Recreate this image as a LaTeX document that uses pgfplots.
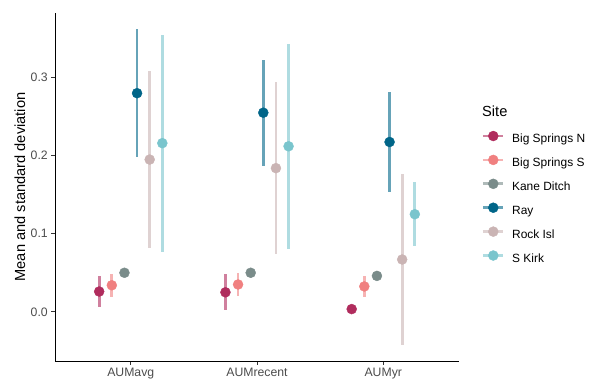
\documentclass[border=0pt]{standalone}
\usepackage{pgfplots}
\pgfplotsset{compat=1.18}
\usepackage{fontspec}
\setmainfont{Liberation Sans}
\definecolor{cBSN}{RGB}{176,44,93}
\definecolor{cBSS}{RGB}{240,128,128}
\definecolor{cKD}{RGB}{122,140,138}
\definecolor{cRay}{RGB}{0,101,136}
\definecolor{cRock}{RGB}{202,180,180}
\definecolor{cSK}{RGB}{122,197,205}
\newcommand{\legimg}[1]{\addlegendimage{legend image code/.code={\draw[#1!60!white, line width=2.7bp] (0bp,3.6bp) -- (20bp,3.6bp); \fill[#1] (10.5bp,3.6bp) circle (5bp);}}}
\begin{document}
\begin{tikzpicture}[x=1bp,y=1bp]
\useasboundingbox (0,0) rectangle (599,379);
\begin{axis}[
  at={(55bp,18bp)}, anchor=south west,
  scale only axis, width=404bp, height=348bp,
  xmin=0.4, xmax=3.6, ymin=-0.063, ymax=0.3827,
  axis x line*=bottom, axis y line*=left,
  axis line style={-, black, line width=0.8bp},
  xtick={1,2,3}, xticklabels={AUMavg,AUMrecent,AUMyr},
  ytick={0,0.1,0.2,0.3},
  /pgf/number format/.cd, fixed, fixed zerofill, precision=1, assume math mode=true,
  /pgfplots/.cd,
  tick align=outside, major tick length=3.7bp,
  tick style={black!80, line width=0.8bp},
  ticklabel style={font=\fontsize{12.3}{13}\selectfont, text=black!70},
  ylabel={Mean and standard deviation},
  ylabel style={font=\fontsize{14.7}{16}\selectfont, at={(axis description cs:-0.087,0.5)}, anchor=center, rotate=0},
  legend style={at={(axis description cs:1.055,0.662)}, anchor=north west, draw=none, fill=none, inner sep=0pt,
    font=\fontsize{12}{13}\selectfont, row sep=9.6bp,
    nodes={inner sep=0pt, text height=8.5bp, text depth=2.5bp}},
  legend cell align=left,
  /tikz/every odd column/.append style={column sep=8bp},
  error bars/error mark=none,
]
\legimg{cBSN}\addlegendentry{Big Springs N}
\legimg{cBSS}\addlegendentry{Big Springs S}
\legimg{cKD}\addlegendentry{Kane Ditch}
\legimg{cRay}\addlegendentry{Ray}
\legimg{cRock}\addlegendentry{Rock Isl}
\legimg{cSK}\addlegendentry{S Kirk}
\addplot[forget plot, only marks, mark=*, mark size=5bp, color=cBSN,
  error bars/.cd, y dir=both, y explicit, error bar style={line width=2.7bp, color=cBSN!60!white}]
  coordinates {(0.75,0.026) +- (0,0.020) (1.75,0.025) +- (0,0.023) (2.75,0.0035) +- (0,0.002)};
\addplot[forget plot, only marks, mark=*, mark size=5bp, color=cBSS,
  error bars/.cd, y dir=both, y explicit, error bar style={line width=2.7bp, color=cBSS!60!white}]
  coordinates {(0.85,0.034) +- (0,0.015) (1.85,0.035) +- (0,0.015) (2.85,0.0325) +- (0,0.013)};
\addplot[forget plot, only marks, mark=*, mark size=5bp, color=cKD,
  error bars/.cd, y dir=both, y explicit, error bar style={line width=2.7bp, color=cKD!60!white}]
  coordinates {(0.95,0.050) +- (0,0.003) (1.95,0.050) +- (0,0.003) (2.95,0.046) +- (0,0.003)};
\addplot[forget plot, only marks, mark=*, mark size=5bp, color=cRay,
  error bars/.cd, y dir=both, y explicit, error bar style={line width=2.7bp, color=cRay!60!white}]
  coordinates {(1.05,0.280) +- (0,0.082) (2.05,0.255) +- (0,0.068) (3.05,0.2175) +- (0,0.064)};
\addplot[forget plot, only marks, mark=*, mark size=5bp, color=cRock,
  error bars/.cd, y dir=both, y explicit, error bar style={line width=2.7bp, color=cRock!60!white}]
  coordinates {(1.15,0.195) +- (0,0.113) (2.15,0.184) +- (0,0.110) (3.15,0.067) +- (0,0.110)};
\addplot[forget plot, only marks, mark=*, mark size=5bp, color=cSK,
  error bars/.cd, y dir=both, y explicit, error bar style={line width=2.7bp, color=cSK!60!white}]
  coordinates {(1.25,0.216) +- (0,0.139) (2.25,0.212) +- (0,0.131) (3.25,0.125) +- (0,0.041)};
\end{axis}
\node[anchor=base west, font=\fontsize{14.7}{16}\selectfont, inner sep=0pt] at (482,262.5) {Site};
\end{tikzpicture}
\end{document}
